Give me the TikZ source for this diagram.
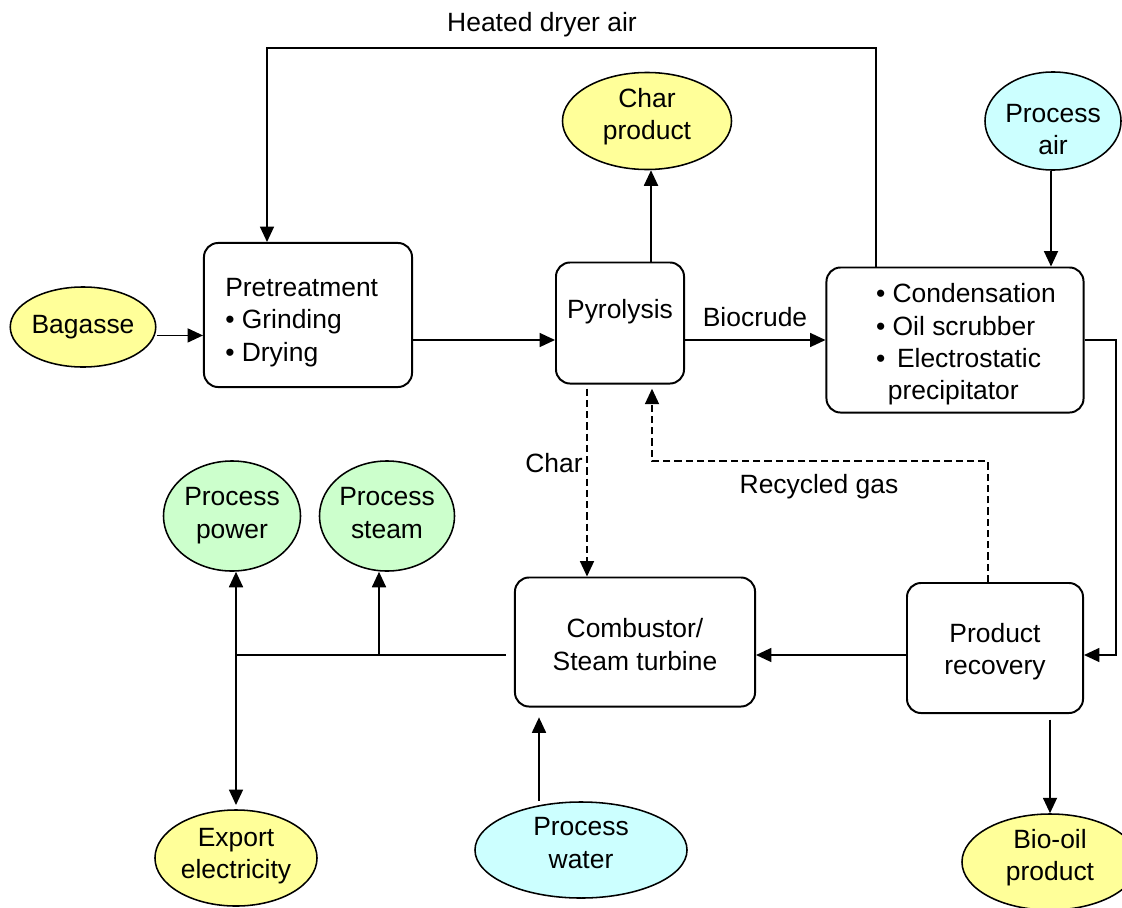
\documentclass[tikz,border=0pt]{standalone}
\usepackage{fontspec}
\setmainfont{Liberation Sans}
\usetikzlibrary{shapes.geometric,arrows.meta}
\definecolor{prodyellow}{RGB}{255,255,153}
\definecolor{utilgreen}{RGB}{204,255,204}
\definecolor{feedcyan}{RGB}{204,255,255}
% two centred lines, raised by #1 inside the node
\newcommand{\twolines}[3]{\raisebox{#1}[0pt][0pt]{\begin{tabular}[t]{@{}c@{}}#2\\#3\end{tabular}}}
\tikzset{
  unit/.style={draw, rounded corners=10pt, line width=1.4pt, align=center, inner sep=0pt},
  stream/.style={draw, ellipse, line width=1.1pt, align=center, inner sep=0pt},
  flow/.style={line width=1.1pt, -{Triangle[length=11pt,width=10pt]}},
  recycle/.style={dash pattern=on 5pt off 3pt},
}

\begin{document}
\begin{tikzpicture}[x=0.025cm, y=-0.025cm, font=\fontsize{18.8}{23}\selectfont]
    \useasboundingbox (0,0) rectangle (1122,907);

    % Nodes
    \node[unit, minimum width=5.2cm, minimum height=3.6cm] (pre) at (308,315)
        {\raisebox{13.1pt}[0pt][0pt]{\begin{tabular}[t]{@{}l@{}}Pretreatment\\ \textbullet\ Grinding\\ \textbullet\ Drying\end{tabular}}\hspace{9pt}};
    \node[unit, minimum width=3.2cm, minimum height=3.025cm, text depth=20pt] (pyro) at (620,323) {Pyrolysis};
    \node[unit, minimum width=6.425cm, minimum height=3.625cm] (cond) at (955,340)
        {\hspace{15.5pt}\raisebox{26.4pt}[0pt][0pt]{\begin{tabular}[t]{@{}l@{}}\textbullet\ Condensation\\ \textbullet\ Oil scrubber\\ \textbullet\ \,Electrostatic\\ \hspace{0.45em}precipitator\end{tabular}}};
    \node[unit, minimum width=6.0cm, minimum height=3.225cm] (comb) at (635,642) {\twolines{3pt}{Combustor/}{Steam turbine}};
    \node[unit, minimum width=4.4cm, minimum height=3.25cm] (rec) at (995,648) {\twolines{4pt}{Product}{recovery}};

    \node[stream, fill=prodyellow, minimum width=3.6cm, minimum height=2.0cm] (bag) at (83,327) {Bagasse};
    \node[stream, fill=prodyellow, minimum width=4.225cm, minimum height=2.425cm] (char) at (647,121) {\twolines{9.7pt}{Char}{product}};
    \node[stream, fill=feedcyan, minimum width=3.4cm, minimum height=2.45cm] (air) at (1053,121) {\twolines{-1pt}{Process}{air}};
    \node[stream, fill=utilgreen, minimum width=3.425cm, minimum height=2.75cm] (power) at (232,516) {\twolines{7.2pt}{Process}{power}};
    \node[stream, fill=utilgreen, minimum width=3.2cm, minimum height=2.75cm] (steam) at (387,516) {\twolines{7.2pt}{Process}{steam}};
    \node[stream, fill=prodyellow, minimum width=4.05cm, minimum height=2.4cm] (export) at (236,858) {\twolines{8.2pt}{Export}{electricity}};
    \node[stream, fill=feedcyan, minimum width=5.3cm, minimum height=2.4cm] (water) at (581,850) {\twolines{10pt}{Process}{water}};
    \node[stream, fill=prodyellow, minimum width=4.4cm, minimum height=2.4cm] (biooil) at (1050,862) {\twolines{9.7pt}{Bio-oil}{product}};

    % Stream labels
    \node (lbldryer) at (542,25) {Heated dryer air};
    \node (lblcrude) at (755,317) {Biocrude};
    \node (lblchar) at (554,463) {Char};
    \node (lblgas) at (819,487) {Recycled gas};

    \coordinate (split) at (236,655);

    % Arrows
    \draw[flow] ([yshift=-6pt]bag.east) -- ([yshift=-6pt]bag.east -| pre.west);
    \draw[flow] (pre.east |- 0,340) -- (pyro.west |- 0,340);
    \draw[flow] (pyro.east |- 0,340) -- (cond.west |- 0,340);
    \draw[flow] (pyro.north -| 651,0) -- (char.south -| 651,0);
    \draw[flow] (cond.north -| 876,0) |- (267,48) -- (pre.north -| 267,0);
    \draw[flow] (air.south -| 1051,0) -- (cond.north -| 1051,0);
    \draw[flow] (cond.east |- 0,340) -- (1116,340) |- (rec.east |- 0,655);
    \draw[flow] (rec.west |- 0,655) -- (comb.east |- 0,655);
    \draw[flow, shorten <=4pt] (rec.south -| 1050,0) -- (biooil.north);
    \draw[flow, recycle, shorten >=3pt] (rec.north -| 988,0) |- (652,461) -- (pyro.south -| 652,0);
    \draw[flow, recycle, shorten <=3pt] (pyro.south -| 587,0) -- (comb.north -| 587,0);
    \draw[flow, shorten >=7pt] (water.north -| 539,0) -- (comb.south -| 539,0);
    \draw[line width=1.1pt] (comb.west |- split) ++(-8,0) -- (split);
    \draw[flow] (split -| 379,0) -- (steam.south -| 379,0);
    \draw[flow] (split) -- (split |- power.south);
    \draw[flow, shorten >=3pt] (split) -- (split |- export.north);
\end{tikzpicture}
\end{document}
